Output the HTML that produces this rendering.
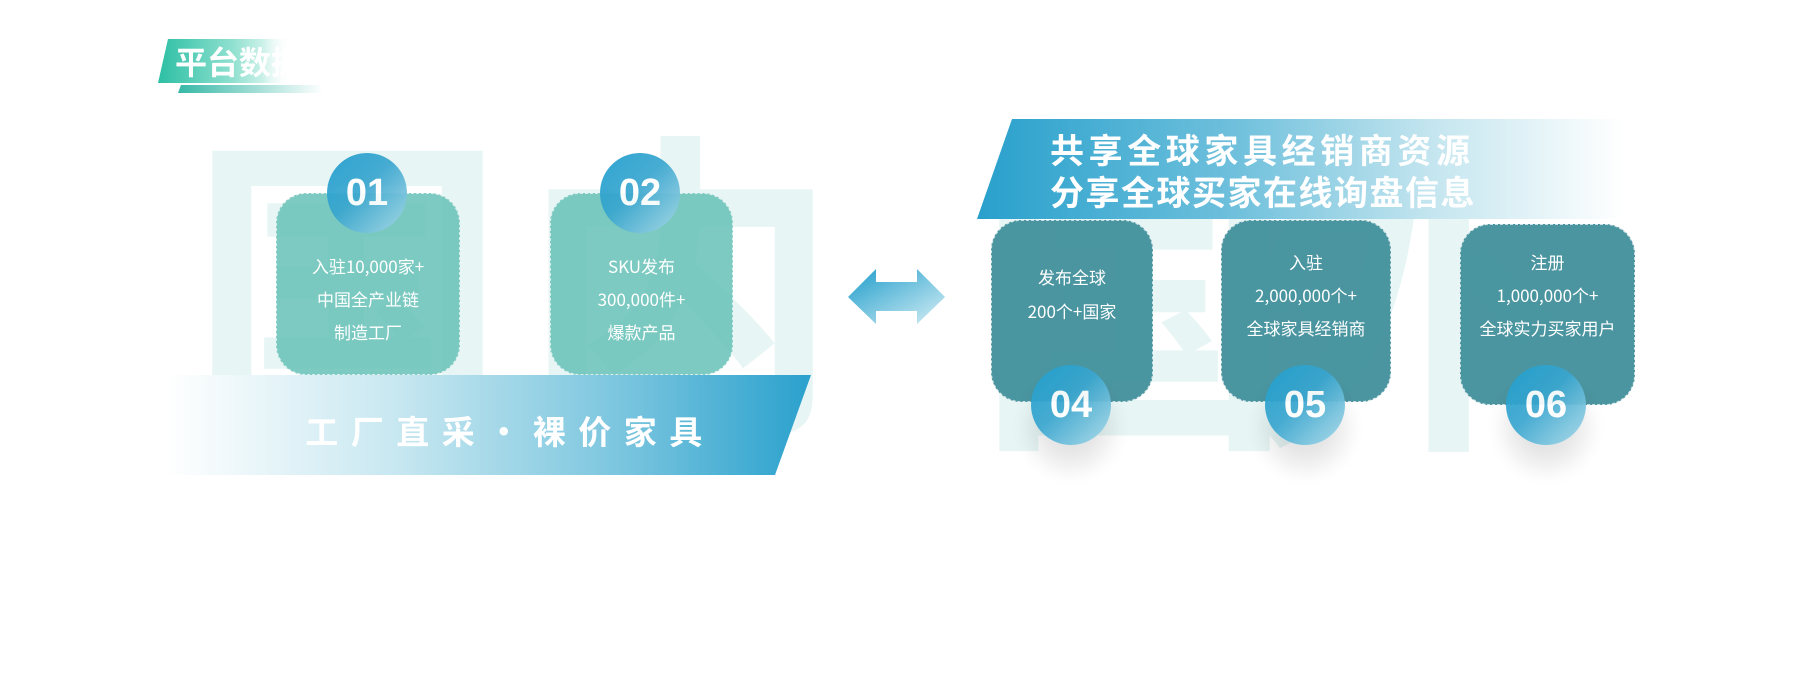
<!DOCTYPE html>
<html><head><meta charset="utf-8"><style>
body{margin:0;width:1800px;height:676px;background:#fff;position:relative;overflow:hidden;font-family:"Liberation Sans","Noto Sans CJK SC",sans-serif}
.a{position:absolute}
.wm{position:absolute;color:#e7f5f5;font-weight:bold;font-size:320px;line-height:1;font-family:"Noto Sans CJK SC",sans-serif}
.card{position:absolute;border-radius:30px;border:1.5px dashed rgba(255,255,255,.7);box-sizing:border-box;color:#fff;font-size:17px;text-align:center;font-family:"Noto Sans CJK SC",sans-serif}
.card div{position:absolute;left:0;right:0;line-height:20px}
.c1{background:rgba(110,196,186,.9)}
.c2{background:rgba(60,140,152,.92)}
.circ{position:absolute;width:80px;height:80px;border-radius:50%;background:linear-gradient(135deg,#1f9fcf 0%,#3aa6cf 45%,#a9d9e8 100%);opacity:.93;color:#fff;font-weight:bold;font-size:38px;line-height:80px;text-align:center;font-family:"Liberation Sans",sans-serif}
.sh{box-shadow:0 22px 26px rgba(0,0,0,.12)}
</style></head><body>
<div class="wm" style="left:188px;top:112px">国</div>
<div class="wm" style="left:520px;top:110px">内</div>
<div class="wm" style="left:975px;top:125px">国</div>
<div class="wm" style="left:1240px;top:125px">外</div>

<!-- title tag -->
<div class="a" style="left:158px;top:39px;width:165px;height:44px;clip-path:polygon(10px 0,100% 0,100% 100%,0 100%);background:linear-gradient(90deg,#2cbfa4 0%,#8fe0cf 45%,#fff 80%)"></div>
<div class="a" style="left:178px;top:85px;width:145px;height:8px;clip-path:polygon(3px 0,100% 0,100% 100%,0 100%);background:linear-gradient(90deg,#36b8a6,#fff)"></div>
<div class="a" style="left:175px;top:41px;font-size:32px;font-weight:bold;color:#fff;line-height:40px;font-family:'Noto Sans CJK SC',sans-serif">平台数据</div>
<div class="a" style="left:262px;top:39px;width:70px;height:46px;background:linear-gradient(90deg,rgba(255,255,255,0),#fff 45%)"></div>

<!-- left cards -->
<div class="card c1" style="left:276px;top:193px;width:184px;height:182px"><div style="top:62px">入驻10,000家+</div><div style="top:95px">中国全产业链</div><div style="top:128px">制造工厂</div></div>
<div class="card c1" style="left:550px;top:193px;width:183px;height:182px"><div style="top:62px">SKU发布</div><div style="top:95px">300,000件+</div><div style="top:128px">爆款产品</div></div>
<div class="circ" style="left:327px;top:153px">01</div>
<div class="circ" style="left:600px;top:153px">02</div>

<!-- bottom banner -->
<div class="a" style="left:166px;top:375px;width:645px;height:100px;clip-path:polygon(0 0,100% 0,609px 100%,0 100%);background:linear-gradient(90deg,rgba(255,255,255,1) 0%,#c9e8f1 35%,#7cc6df 70%,#2aa1cd 100%)"></div>
<div class="a" style="left:300px;top:408px;width:420px;text-align:center;color:#fff;font-weight:bold;font-size:33px;letter-spacing:12.5px;line-height:44px;font-family:'Noto Sans CJK SC',sans-serif">工厂直采·裸价家具</div>

<!-- double arrow -->
<svg class="a" style="left:846px;top:268px" width="100" height="58"><defs><linearGradient id="g" x1="0" y1="0" x2="1" y2="1"><stop offset="0" stop-color="#1f9dcb"/><stop offset="1" stop-color="#d5eef5"/></linearGradient></defs><polygon points="2,29 30,1 30,14 71,14 71,1 99,29 71,56 71,43 30,43 30,56" fill="url(#g)"/></svg>

<!-- top right banner -->
<div class="a" style="left:977px;top:119px;width:646px;height:100px;clip-path:polygon(35px 0,100% 0,100% 100%,0 100%);background:linear-gradient(90deg,#28a0cc 0%,#6fc0dc 40%,#c3e5ef 70%,rgba(255,255,255,1) 100%)"></div>
<div class="a" style="left:1050px;top:128px;color:#fff;font-weight:bold;font-size:34px;line-height:42px;font-family:'Noto Sans CJK SC',sans-serif;white-space:nowrap"><span style="letter-spacing:4.6px">共享全球家具经销商资源</span><br><span style="letter-spacing:1.5px">分享全球买家在线询盘信息</span></div>

<!-- right cards -->
<div class="card c2" style="left:991px;top:220px;width:162px;height:182px"><div style="top:46px">发布全球</div><div style="top:80px">200个+国家</div></div>
<div class="card c2" style="left:1221px;top:220px;width:170px;height:182px"><div style="top:31px">入驻</div><div style="top:64px">2,000,000个+</div><div style="top:97px">全球家具经销商</div></div>
<div class="card c2" style="left:1460px;top:224px;width:175px;height:181px"><div style="top:27px">注册</div><div style="top:60px">1,000,000个+</div><div style="top:93px">全球实力买家用户</div></div>
<div class="circ sh" style="left:1031px;top:365px">04</div>
<div class="circ sh" style="left:1265px;top:365px">05</div>
<div class="circ sh" style="left:1506px;top:365px">06</div>
</body></html>
